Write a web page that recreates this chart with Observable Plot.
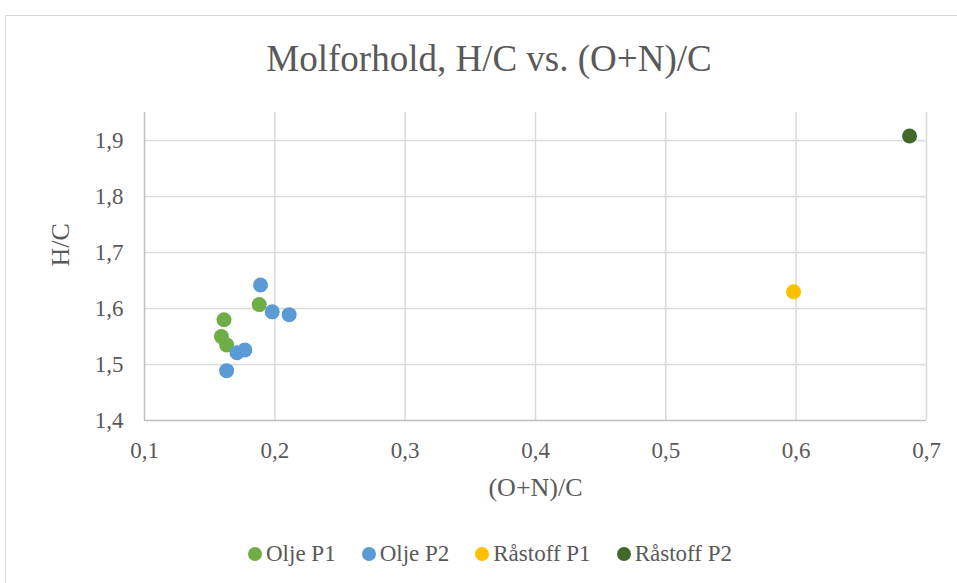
<!DOCTYPE html>
<html>
<head>
<meta charset="utf-8">
<script src="https://cdn.jsdelivr.net/npm/d3@7"></script>
<script src="https://cdn.jsdelivr.net/npm/@observablehq/plot@0.6"></script>
<style>
  html, body { margin: 0; padding: 0; background: #fff; }
  #wrap { position: relative; width: 957px; height: 583px; overflow: hidden; font-family: "Liberation Serif", "Times New Roman", serif; color: #595959; }
  #frame { position: absolute; left: 5px; top: 15px; width: 1000px; height: 700px; border: 1px solid #d9d9d9; box-sizing: border-box; }
  #title { position: absolute; left: 0; top: 40px; width: 978px; text-align: center; font-size: 37px; line-height: 37px; white-space: nowrap; }
  #chart { position: absolute; left: 0; top: 0; }
  #legend { position: absolute; left: 248px; top: 542px; display: flex; align-items: center; font-size: 23px; line-height: 23px; white-space: nowrap; }
  .item { display: flex; align-items: center; margin-right: 26px; }
  .sw { width: 14px; height: 14px; border-radius: 50%; margin-right: 4px; }
</style>
</head>
<body>
<div id="wrap">
  <div id="frame"></div>
  <div id="title"></div>
  <div id="chart"></div>
  <div id="legend"></div>
</div>
<script>
const chartTitle = "Molforhold, H/C vs. (O+N)/C";
const xLabel = "(O+N)/C";
const yLabel = "H/C";

const seriesNames = ["Olje P1", "Olje P2", "Råstoff P1", "Råstoff P2"];
const seriesColors = ["#70AD47", "#5B9BD5", "#FFC000", "#43682B"];

const oljeP1X = [0.161, 0.159, 0.163, 0.188];
const oljeP1Y = [1.580, 1.550, 1.535, 1.607];
const oljeP2X = [0.189, 0.198, 0.211, 0.177, 0.171, 0.163];
const oljeP2Y = [1.642, 1.594, 1.589, 1.526, 1.521, 1.489];
const raastoffP1X = [0.598];
const raastoffP1Y = [1.630];
const raastoffP2X = [0.687];
const raastoffP2Y = [1.908];

const xTicks = [0.1, 0.2, 0.3, 0.4, 0.5, 0.6, 0.7];
const yTicks = [1.4, 1.5, 1.6, 1.7, 1.8, 1.9];

const seriesX = [oljeP1X, oljeP2X, raastoffP1X, raastoffP2X];
const seriesY = [oljeP1Y, oljeP2Y, raastoffP1Y, raastoffP2Y];
const points = [];
seriesNames.forEach((name, i) => {
  seriesX[i].forEach((x, j) => points.push({series: name, x, y: seriesY[i][j]}));
});

const fmt = d => d.toFixed(1).replace(".", ",");
const serif = "'Liberation Serif', 'Times New Roman', serif";

const plot = Plot.plot({
  width: 957,
  height: 520,
  marginLeft: 144,
  marginRight: 31,
  marginTop: 112,
  marginBottom: 100,
  x: {domain: [0.1, 0.7]},
  y: {domain: [1.4, 1.95]},
  color: {domain: seriesNames, range: seriesColors},
  style: {fontFamily: serif, fontSize: "23px", color: "#595959", background: "transparent", overflow: "visible"},
  marks: [
    Plot.ruleX(xTicks.slice(1), {stroke: "#d9d9d9", strokeWidth: 1.5}),
    Plot.ruleY(yTicks.slice(1), {stroke: "#d9d9d9", strokeWidth: 1.5}),
    Plot.ruleX([xTicks[0]], {stroke: "#bfbfbf", strokeWidth: 1.5}),
    Plot.ruleY([yTicks[0]], {stroke: "#bfbfbf", strokeWidth: 1.5}),
    Plot.axisX({ticks: xTicks, tickSize: 0, tickPadding: 21, tickFormat: fmt, label: null, fontSize: 23, fontFamily: serif, fill: "#595959"}),
    Plot.axisY({ticks: yTicks, tickSize: 0, tickPadding: 21, tickFormat: fmt, label: null, fontSize: 23, fontFamily: serif, fill: "#595959"}),
    Plot.dot(points, {x: "x", y: "y", fill: "series", r: 7.5, stroke: null}),
    Plot.text([xLabel], {text: d => d, frameAnchor: "bottom", dy: 75, fontSize: 26, fontFamily: serif, fill: "#595959"}),
    Plot.text([yLabel], {text: d => d, frameAnchor: "left", dx: -84, rotate: -90, fontSize: 26, fontFamily: serif, fill: "#595959"})
  ]
});
document.getElementById("chart").appendChild(plot);
document.getElementById("title").textContent = chartTitle;

const legend = document.getElementById("legend");
seriesNames.forEach((name, i) => {
  const item = document.createElement("div");
  item.className = "item";
  const sw = document.createElement("span");
  sw.className = "sw";
  sw.style.background = seriesColors[i];
  const label = document.createElement("span");
  label.textContent = name;
  item.appendChild(sw);
  item.appendChild(label);
  legend.appendChild(item);
});
</script>
</body>
</html>
